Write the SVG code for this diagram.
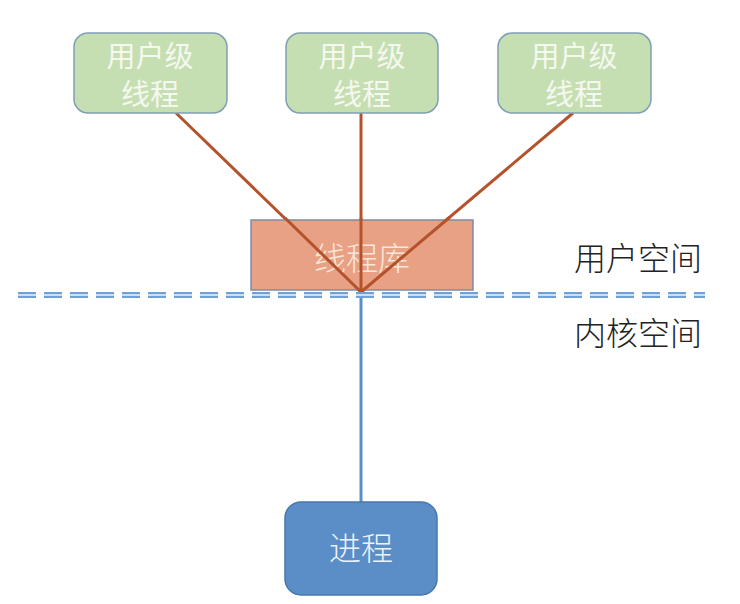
<svg xmlns="http://www.w3.org/2000/svg" width="740" height="604" viewBox="0 0 740 604">
<style>
.t{font-family:"Noto Sans CJK SC","Noto Sans",sans-serif;text-anchor:middle;font-weight:300}
.ut{fill:#f4f8ef;font-size:29px;font-weight:400}
.ubox{fill:#c5dfb2;stroke:#7f9fb5;stroke-width:1.5}
.lbl{fill:#222;font-size:32px}
.br{stroke:#b4522b;stroke-width:3;fill:none}
</style>
<rect width="740" height="604" fill="#fff"/>
<g id="connectors">
<line class="br" x1="176" y1="113" x2="361" y2="292"/>
<line class="br" x1="361" y1="113" x2="361" y2="292"/>
<line class="br" x1="573" y1="113" x2="361" y2="292"/>
<line x1="361" y1="292" x2="361" y2="502" stroke="#5b8fc8" stroke-width="3"/>
</g>
<g id="lib">
<rect x="251" y="220" width="222" height="70" fill="#e8a184" stroke="#7b8ca6" stroke-width="1.5"/>
<text class="t" x="362" y="270" font-size="32" fill="#f7e6dc">线程库</text>
</g>
<g id="redraw">
<line class="br" x1="285" y1="218" x2="361" y2="292"/>
<line class="br" x1="361" y1="218" x2="361" y2="292"/>
<line class="br" x1="450" y1="217" x2="361" y2="292"/>
</g>
<g id="divider">
<line x1="18" y1="295" x2="705" y2="295" stroke="#6fa0d8" stroke-width="6" stroke-dasharray="18 8"/>
<line x1="18" y1="295" x2="705" y2="295" stroke="#eef4fb" stroke-width="1.5" stroke-dasharray="18 8"/>
</g>
<g id="u1">
<rect class="ubox" x="74" y="33" width="153" height="80" rx="14"/>
<text class="t ut" x="150" y="67">用户级</text>
<text class="t ut" x="150" y="105">线程</text>
</g>
<g id="u2">
<rect class="ubox" x="286" y="33" width="152" height="80" rx="14"/>
<text class="t ut" x="362" y="67">用户级</text>
<text class="t ut" x="362" y="105">线程</text>
</g>
<g id="u3">
<rect class="ubox" x="498" y="33" width="153" height="80" rx="14"/>
<text class="t ut" x="574" y="67">用户级</text>
<text class="t ut" x="574" y="105">线程</text>
</g>
<g id="proc">
<rect x="285" y="502" width="152" height="93" rx="16" fill="#5b8ec6" stroke="#4877ae" stroke-width="1.5"/>
<text class="t" x="361" y="560" font-size="32" fill="#eef4fb">进程</text>
</g>
<g id="labels">
<text class="t lbl" x="638" y="270">用户空间</text>
<text class="t lbl" x="638" y="345">内核空间</text>
</g>
</svg>
